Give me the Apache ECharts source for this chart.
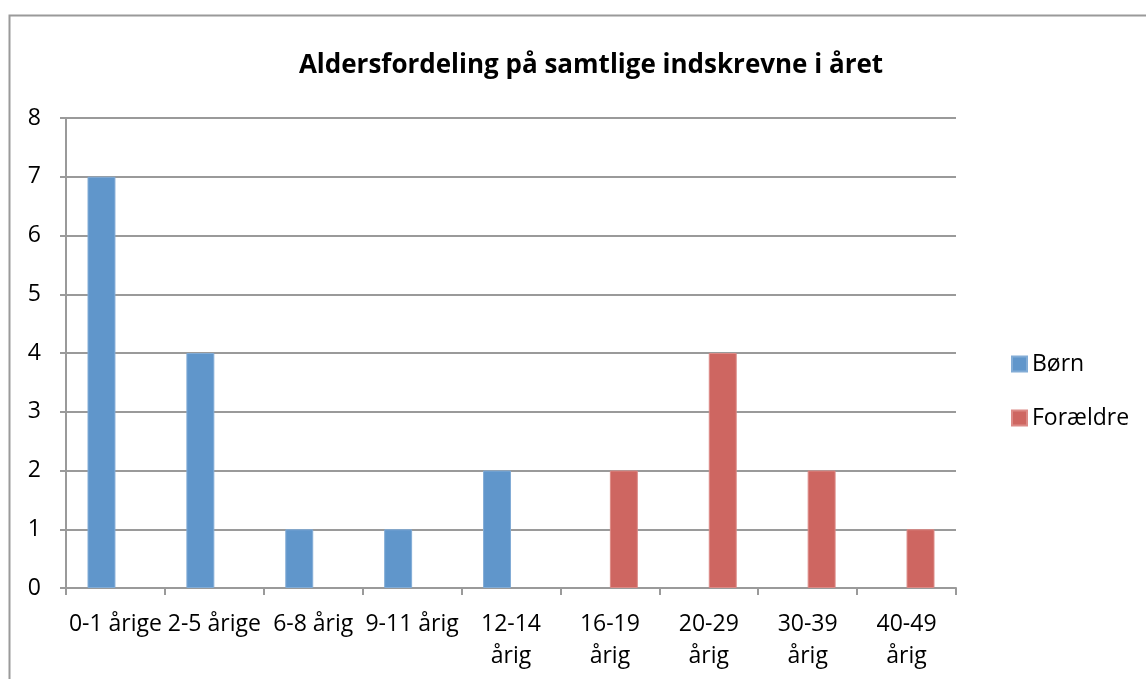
<!DOCTYPE html>
<html>
<head>
<meta charset="utf-8">
<script src="https://cdn.jsdelivr.net/npm/echarts@6/dist/echarts.min.js"></script>
<style>
html,body{margin:0;padding:0;background:#fff;}
#chart{width:1146px;height:679px;}
</style>
</head>
<body>
<div id="chart"></div>
<script>
const titleText = 'Aldersfordeling på samtlige indskrevne i året';
const categories = ['0-1 årige','2-5 årige','6-8 årig','9-11 årig','12-14\nårig','16-19\nårig','20-29\nårig','30-39\nårig','40-49\nårig'];
const seriesNames = ['Børn','Forældre'];
const boern = [7,4,1,1,2,0,0,0,0];
const foraeldre = [0,0,0,0,0,2,4,2,1];
const yTicks = [0,1,2,3,4,5,6,7,8];

const font = '"Open Sans", "Noto Sans", sans-serif';
const hideZero = arr => arr.map(v => v === 0 ? '-' : v);
const chart = echarts.init(document.getElementById('chart'));
chart.setOption({
  animation: false,
  backgroundColor: '#fff',
  graphic: [{
    type: 'rect',
    shape: {x: 9.5, y: 15.5, width: 1300, height: 1000},
    style: {fill: 'none', stroke: '#9a9a9a', lineWidth: 2},
    silent: true
  }],
  title: {
    text: titleText,
    left: 586, top: 44, textAlign: 'center',
    textStyle: {fontFamily: font, fontWeight: 'bold', fontSize: 26, lineHeight: 34, color: '#000'}
  },
  legend: {
    orient: 'vertical',
    left: 1006, top: 347,
    itemWidth: 15, itemHeight: 15, itemGap: 30,
    icon: 'rect',
    textStyle: {fontFamily: font, fontSize: 23, lineHeight: 24, color: '#000'},
    data: seriesNames
  },
  grid: {left: 66, top: 118, width: 890, height: 470, containLabel: false},
  xAxis: {
    type: 'category',
    data: categories,
    axisLine: {lineStyle: {color: '#9a9a9a', width: 2}},
    axisTick: {show: true, length: 7, alignWithLabel: false, lineStyle: {color: '#9a9a9a', width: 2}},
    axisLabel: {fontFamily: font, fontSize: 23, color: '#000', lineHeight: 32, margin: 20, interval: 0}
  },
  yAxis: {
    type: 'value',
    min: yTicks[0], max: yTicks[yTicks.length-1], interval: 1,
    axisLine: {show: true, lineStyle: {color: '#9a9a9a', width: 2}},
    axisTick: {show: true, length: 6, lineStyle: {color: '#9a9a9a', width: 2}},
    splitLine: {lineStyle: {color: '#9a9a9a', width: 2}},
    axisLabel: {fontFamily: font, fontSize: 23, color: '#000', margin: 25}
  },
  series: [
    {name: seriesNames[0], type: 'bar', data: hideZero(boern), barGap: '0%', barCategoryGap: '43.5%',
     itemStyle: {color: '#6096CB', borderColor: '#82ACD6', borderWidth: 1}},
    {name: seriesNames[1], type: 'bar', data: hideZero(foraeldre), barGap: '0%', barCategoryGap: '43.5%',
     itemStyle: {color: '#CE6661', borderColor: '#DC8A86', borderWidth: 1}}
  ]
});
</script>
</body>
</html>
